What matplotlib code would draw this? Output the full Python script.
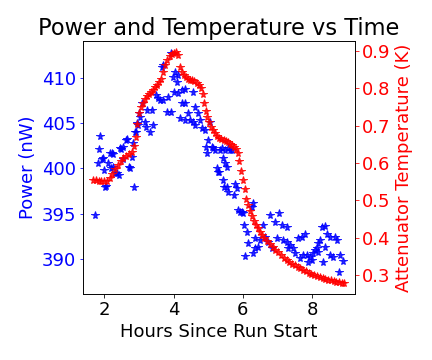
import matplotlib
matplotlib.use('Agg')
import matplotlib.pyplot as plt

# Power readings (hours, nW)
power_time = [1.73, 1.81, 1.84, 1.87, 1.93, 1.96, 1.98, 2.01, 2.04, 2.10, 2.16, 2.19,
              2.22, 2.25, 2.25, 2.30, 2.36, 2.42, 2.45, 2.48, 2.53, 2.53, 2.62, 2.65,
              2.71, 2.74, 2.79, 2.82, 2.85, 2.88, 2.91, 2.94, 2.97, 3.00, 3.03, 3.08,
              3.17, 3.20, 3.23, 3.31, 3.37, 3.40, 3.49, 3.55, 3.60, 3.66, 3.69, 3.69,
              3.81, 3.84, 3.92, 3.92, 3.98, 4.01, 4.04, 4.10, 4.12, 4.12, 4.18, 4.24,
              4.24, 4.33, 4.33, 4.33, 4.41, 4.47, 4.56, 4.56, 4.62, 4.62, 4.70, 4.76,
              4.82, 4.90, 4.93, 4.96, 4.99, 5.05, 5.10, 5.14, 5.19, 5.25, 5.28, 5.31,
              5.34, 5.40, 5.42, 5.42, 5.45, 5.48, 5.48, 5.54, 5.54, 5.57, 5.57, 5.63,
              5.69, 5.74, 5.77, 5.83, 5.86, 5.92, 5.97, 6.00, 6.03, 6.06, 6.12, 6.15,
              6.26, 6.29, 6.29, 6.35, 6.35, 6.44, 6.49, 6.58, 6.64, 6.73, 6.78, 6.84,
              6.93, 6.99, 7.04, 7.13, 7.16, 7.27, 7.27, 7.30, 7.36, 7.45, 7.50, 7.59,
              7.65, 7.71, 7.74, 7.80, 7.85, 7.88, 7.94, 7.99, 8.03, 8.08, 8.14, 8.17,
              8.17, 8.23, 8.29, 8.32, 8.37, 8.37, 8.43, 8.52, 8.52, 8.61, 8.66, 8.72,
              8.78, 8.81, 8.89]
power = [394.8, 400.6, 402.2, 403.6, 401.0, 401.2, 399.8, 398.0, 398.1, 400.6, 401.7, 400.1,
         401.7, 401.6, 400.2, 399.5, 399.5, 399.3, 402.3, 402.2, 402.4, 401.0, 403.1, 403.3,
         400.2, 400.1, 401.3, 402.8, 398.0, 404.0, 404.0, 405.0, 404.8, 406.1, 405.7, 407.3,
         405.1, 404.6, 406.5, 404.0, 406.5, 404.8, 408.1, 407.8, 407.6, 411.2, 411.4, 407.6,
         406.3, 407.9, 412.8, 406.3, 410.1, 408.5, 410.7, 409.6, 410.3, 408.3, 405.6, 408.7,
         407.2, 408.8, 407.2, 405.4, 406.1, 405.4, 408.5, 405.1, 406.8, 404.8, 406.1, 405.4,
         404.5, 404.3, 402.4, 401.7, 403.1, 405.1, 402.4, 402.3, 402.0, 400.1, 399.6, 399.6,
         402.0, 402.3, 401.2, 398.7, 398.0, 402.0, 400.6, 400.2, 398.0, 402.3, 397.4, 402.0,
         402.0, 397.1, 398.3, 397.8, 395.4, 395.2, 395.2, 395.1, 393.8, 390.3, 393.0, 391.8,
         395.7, 396.2, 390.7, 392.3, 391.2, 391.3, 392.1, 393.8, 392.4, 391.9, 394.8, 391.2,
         394.1, 392.3, 395.1, 393.8, 392.1, 393.5, 391.9, 391.2, 391.5, 391.2, 390.7, 392.3,
         390.1, 392.4, 390.4, 392.7, 390.4, 389.7, 390.2, 389.9, 390.7, 391.0, 391.2, 391.8,
         390.8, 392.1, 393.5, 389.7, 393.6, 391.3, 392.7, 392.4, 390.4, 390.2, 392.4, 392.1,
         388.5, 390.4, 389.8]

# Attenuator temperature readings (hours, K)
temp_time = [1.67, 1.75, 1.83, 1.91, 1.99, 2.07, 2.15, 2.23, 2.31, 2.39, 2.47, 2.55,
             2.63, 2.71, 2.79, 2.85, 2.90, 2.95, 3.00, 3.05, 3.10, 3.16, 3.22, 3.28,
             3.34, 3.40, 3.46, 3.52, 3.58, 3.64, 3.70, 3.76, 3.82, 3.88, 3.94, 4.00,
             4.06, 4.12, 4.18, 4.24, 4.30, 4.36, 4.42, 4.48, 4.54, 4.60, 4.66, 4.72,
             4.78, 4.84, 4.88, 4.92, 4.96, 5.02, 5.08, 5.14, 5.20, 5.26, 5.32, 5.38,
             5.44, 5.50, 5.56, 5.62, 5.68, 5.74, 5.80, 5.86, 5.90, 5.95, 6.00, 6.05,
             6.10, 6.15, 6.20, 6.26, 6.32, 6.38, 6.44, 6.50, 6.56, 6.62, 6.70, 6.78,
             6.86, 6.94, 7.02, 7.10, 7.18, 7.26, 7.34, 7.42, 7.50, 7.58, 7.66, 7.74,
             7.82, 7.90, 7.98, 8.06, 8.14, 8.22, 8.30, 8.38, 8.46, 8.54, 8.62, 8.70,
             8.78, 8.86, 8.92]
temp = [0.554, 0.554, 0.553, 0.553, 0.552, 0.553, 0.560, 0.572, 0.584, 0.595, 0.605, 0.614,
        0.620, 0.625, 0.630, 0.645, 0.670, 0.705, 0.735, 0.750, 0.762, 0.772, 0.780, 0.786,
        0.790, 0.797, 0.803, 0.810, 0.816, 0.825, 0.845, 0.862, 0.876, 0.886, 0.892, 0.896,
        0.897, 0.890, 0.858, 0.845, 0.835, 0.830, 0.826, 0.823, 0.822, 0.820, 0.814, 0.808,
        0.800, 0.785, 0.760, 0.740, 0.723, 0.710, 0.698, 0.688, 0.680, 0.673, 0.668, 0.665,
        0.662, 0.659, 0.656, 0.652, 0.648, 0.643, 0.638, 0.628, 0.605, 0.580, 0.555, 0.530,
        0.505, 0.488, 0.472, 0.458, 0.446, 0.435, 0.425, 0.416, 0.408, 0.400, 0.392, 0.384,
        0.376, 0.368, 0.361, 0.354, 0.347, 0.341, 0.336, 0.331, 0.326, 0.322, 0.318, 0.314,
        0.310, 0.306, 0.303, 0.300, 0.297, 0.295, 0.292, 0.290, 0.288, 0.286, 0.284, 0.282,
        0.281, 0.280, 0.279]

plt.rcParams['font.size'] = 18

fig = plt.figure(figsize=(6, 5), dpi=72)
ax1 = fig.add_axes([0.192, 0.183, 0.63, 0.703])
ax2 = ax1.twinx()

ax1.plot(power_time, power, 'b*', linestyle='none', markersize=8, alpha=0.85)
ax2.plot(temp_time, temp, 'r*', linestyle='none', markersize=8, alpha=0.85)

ax1.set_xlim(1.38, 9.24)
ax1.set_ylim(386.1, 414.1)
ax2.set_ylim(0.249, 0.927)
ax1.set_xticks([2, 4, 6, 8])
ax1.set_yticks([390, 395, 400, 405, 410])
ax2.set_yticks([0.3, 0.4, 0.5, 0.6, 0.7, 0.8, 0.9])

ax1.set_xlabel('Hours Since Run Start')
ax1.set_ylabel('Power (nW)', color='b')
ax2.set_ylabel('Attenuator Temperature (K)', color='r')
ax1.tick_params(axis='y', colors='b')
ax2.tick_params(axis='y', colors='r')
ax1.set_title('Power and Temperature vs Time', fontsize=22.5)

fig.savefig('out.png', dpi=72)
